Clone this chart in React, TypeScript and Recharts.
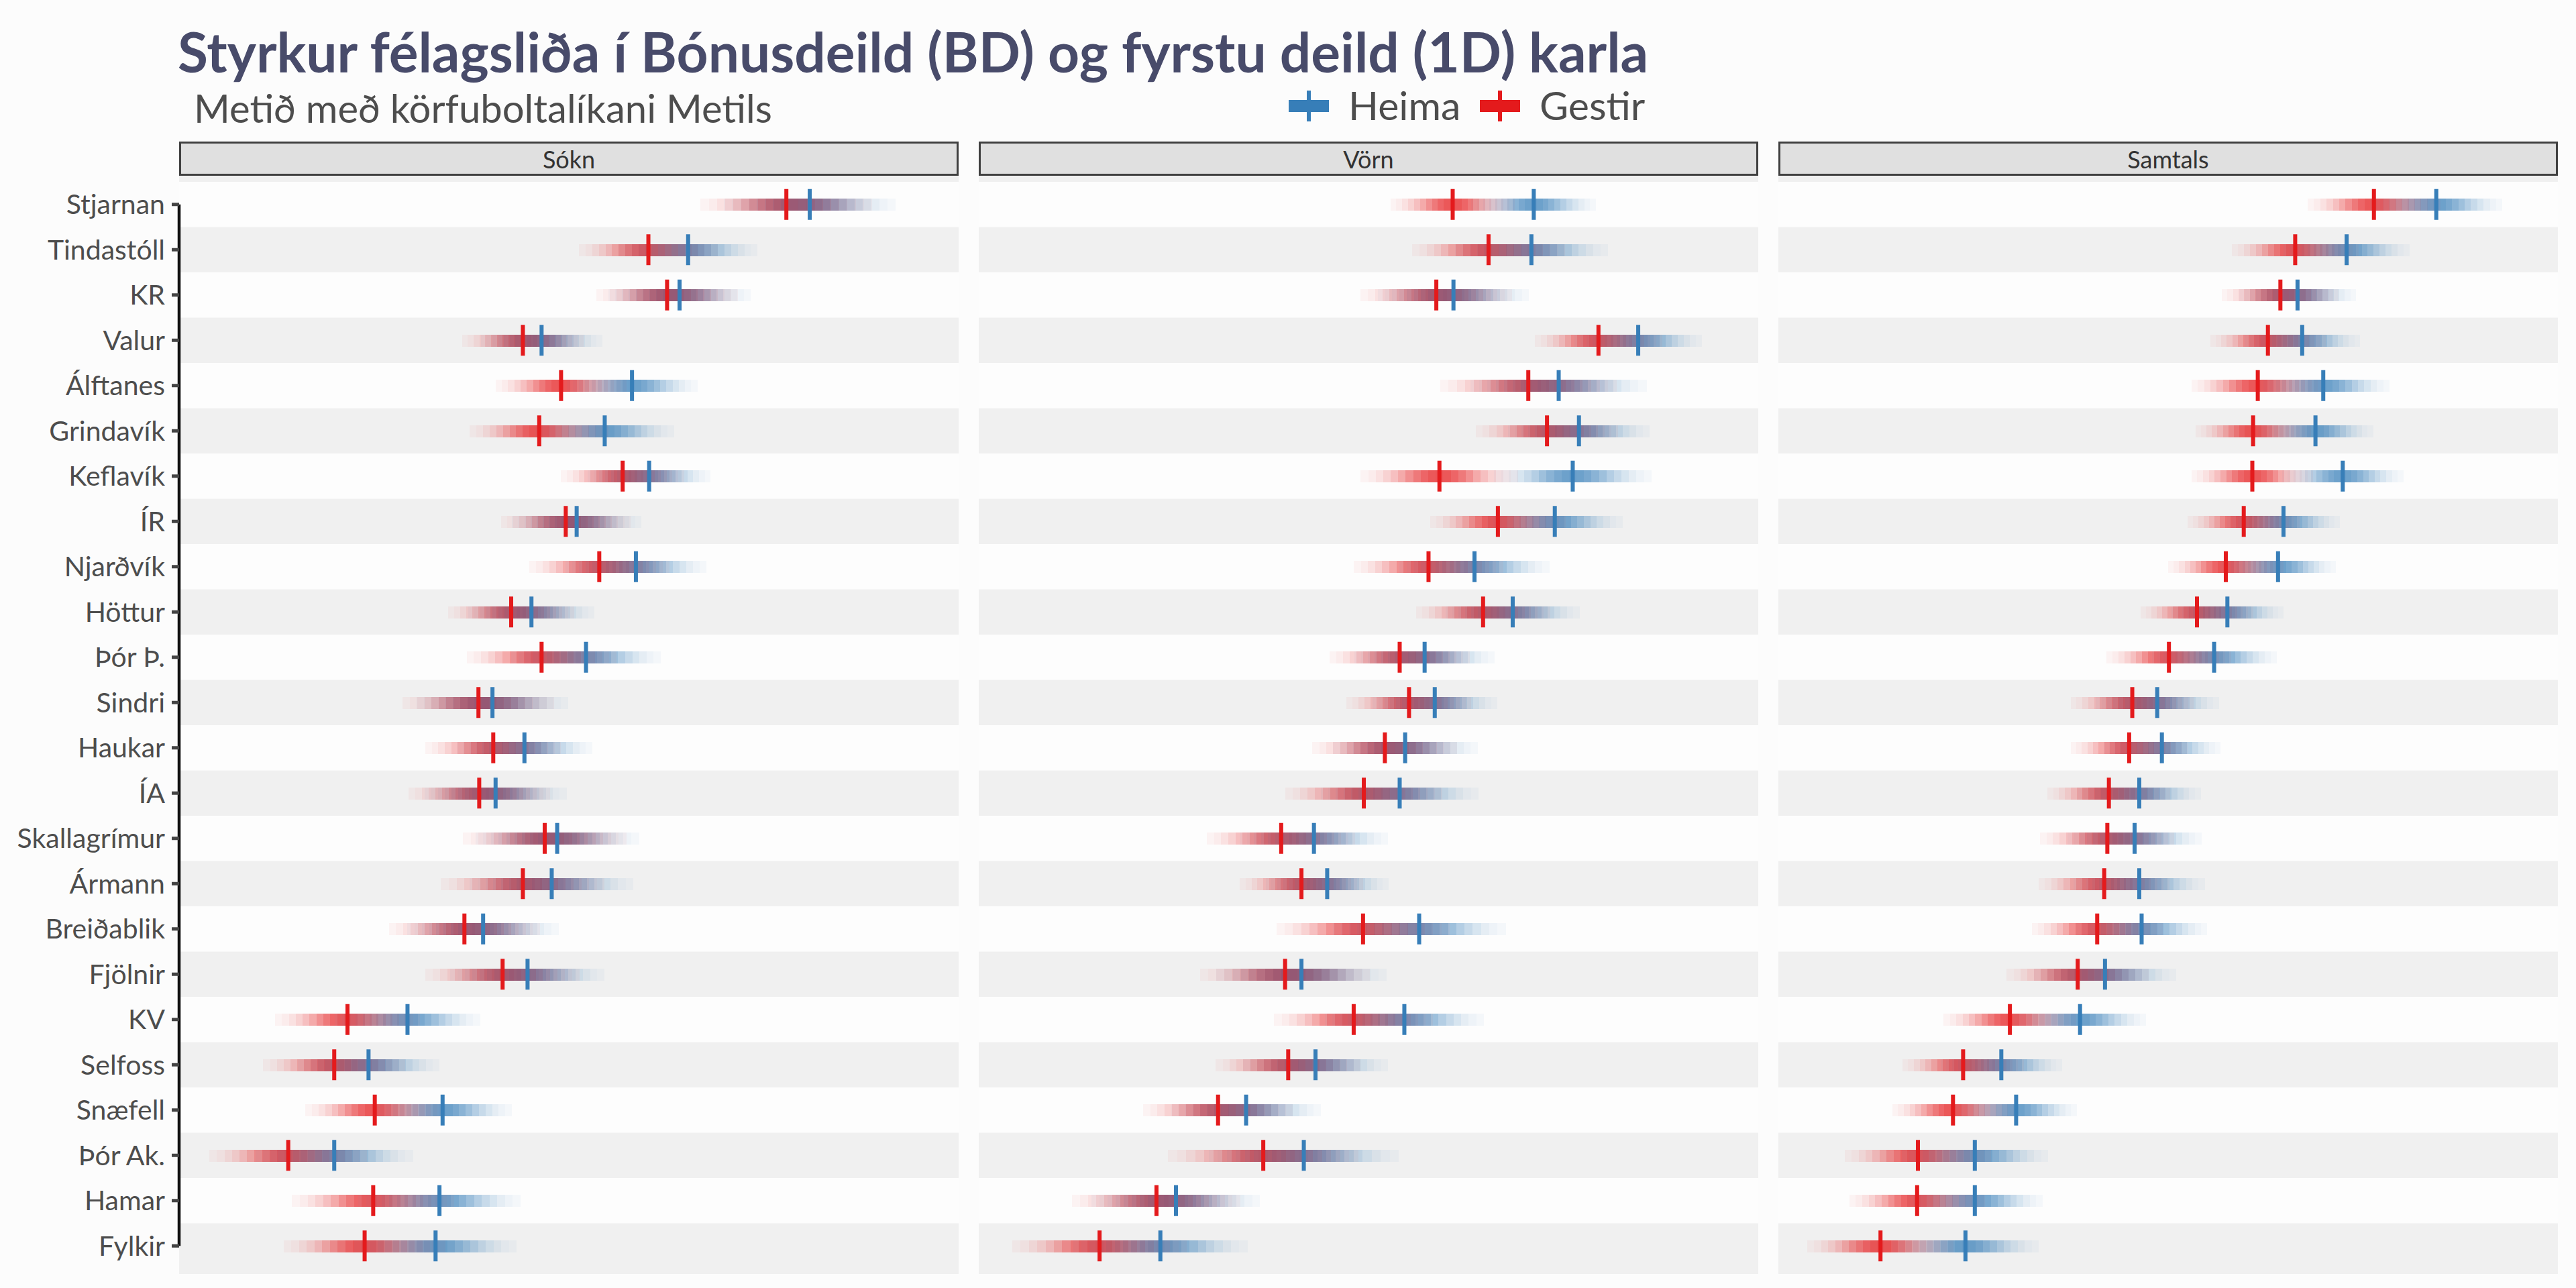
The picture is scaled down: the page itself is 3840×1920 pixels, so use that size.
import React from 'react';
import {
  ComposedChart,
  Bar,
  Scatter,
  XAxis,
  YAxis,
  ReferenceArea,
  ReferenceLine,
} from 'recharts';

// Lið, raðað eftir heildarstyrk
const teams = [
  'Stjarnan', 'Tindastóll', 'KR', 'Valur', 'Álftanes', 'Grindavík', 'Keflavík', 'ÍR',
  'Njarðvík', 'Höttur', 'Þór Þ.', 'Sindri', 'Haukar', 'ÍA', 'Skallagrímur', 'Ármann',
  'Breiðablik', 'Fjölnir', 'KV', 'Selfoss', 'Snæfell', 'Þór Ak.', 'Hamar', 'Fylkir',
];

// Mat á styrk (kvarði 0-100 innan hvers hluta)
const soknHeima = [80.9, 65.3, 64.2, 46.5, 58.1, 54.6, 60.3, 51.0, 58.6, 45.2, 52.2, 40.2, 44.3, 40.6, 48.5, 47.8, 39.0, 44.7, 29.3, 24.3, 33.8, 19.9, 33.4, 32.9];
const soknGestir = [77.9, 60.2, 62.6, 44.1, 49.0, 46.2, 56.9, 49.6, 53.9, 42.6, 46.5, 38.4, 40.3, 38.5, 46.9, 44.1, 36.6, 41.5, 21.6, 19.9, 25.1, 14.0, 24.9, 23.8];
const vornHeima = [71.2, 70.9, 60.9, 84.6, 74.4, 77.0, 76.2, 73.9, 63.6, 68.5, 57.2, 58.5, 54.7, 54.0, 43.0, 44.7, 56.5, 41.4, 54.6, 43.2, 34.3, 41.7, 25.3, 23.3];
const vornGestir = [60.8, 65.4, 58.7, 79.5, 70.5, 72.9, 59.1, 66.6, 57.7, 64.7, 54.0, 55.2, 52.1, 49.4, 38.8, 41.4, 49.3, 39.3, 48.1, 39.7, 30.7, 36.5, 22.8, 15.5];
const samtalsHeima = [84.4, 72.9, 66.6, 67.2, 69.9, 68.9, 72.4, 64.8, 64.1, 57.6, 55.9, 48.6, 49.2, 46.3, 45.7, 46.3, 46.6, 41.9, 38.7, 28.6, 30.5, 25.2, 25.2, 24.0];
const samtalsGestir = [76.4, 66.3, 64.4, 62.8, 61.5, 60.9, 60.8, 59.7, 57.4, 53.7, 50.1, 45.4, 45.0, 42.4, 42.2, 41.8, 40.9, 38.4, 29.7, 23.7, 22.4, 17.9, 17.8, 13.1];

// Óvissa (hálf breidd bilsins) fyrir hvert lið
const soknOvissa = [11.0, 8.9, 9.1, 7.8, 8.4, 8.9, 7.9, 8.3, 9.0, 8.1, 9.6, 9.7, 8.7, 9.1, 10.5, 10.5, 9.7, 9.9, 9.3, 9.1, 8.9, 10.1, 10.4, 10.4];
const vornOvissa = [8.0, 9.8, 9.7, 8.2, 11.3, 9.1, 10.1, 8.7, 9.6, 8.6, 9.0, 8.0, 9.3, 10.1, 9.5, 7.9, 11.1, 10.9, 10.2, 9.3, 9.6, 12.2, 10.8, 11.2];
const samtalsOvissa = [8.5, 8.1, 7.5, 7.4, 8.5, 7.4, 7.8, 7.2, 7.4, 7.2, 8.0, 7.9, 7.5, 7.9, 8.6, 8.4, 8.4, 9.1, 8.5, 7.8, 7.8, 9.4, 8.7, 9.4];

const panelNames = ['Sókn', 'Vörn', 'Samtals'];

const HEIMA = '#377eb8';
const GESTIR = '#e41a1c';
const HEIMA_RGB = [55, 126, 184];
const GESTIR_RGB = [228, 26, 28];
const FONT = 'Lato, "Open Sans", sans-serif';

const PANEL_W = 1162;
const PANEL_LEFTS = [267, 1459, 2651];
const AXIS_W = 267;
const ROW_H = 67.5;
const ROWS_TOP = 270.5;
const PANEL_TOP = 262;
const PANEL_BOTTOM = 1899;
const STRIP_TOP = 211;
const STEPS = 21;
const PEAK = 0.75;

// þéttleiki (ógegnsæi) í þrepi sem inniheldur v
function stepAlpha(v: number, m: number, s: number) {
  const w = (2 * s) / STEPS;
  const k = Math.floor((v - (m - s)) / w);
  if (k < 0 || k >= STEPS) return 0;
  const z = (m - s + (k + 0.5) * w - m) / (s / 2.5);
  return PEAK * Math.exp((-z * z) / 2);
}

function GradientBar(props: any) {
  const { x, y, width, height, payload } = props;
  if (!payload) return null;
  const [lo, hi] = payload.range;
  const toPx = (v: number) => x + ((v - lo) / (hi - lo)) * width;
  const { heima, gestir, spread: s } = payload;
  const edges: number[] = [];
  for (let k = 0; k <= STEPS; k++) {
    edges.push(heima - s + (2 * s * k) / STEPS, gestir - s + (2 * s * k) / STEPS);
  }
  edges.sort((a, b) => a - b);
  const cells: React.ReactNode[] = [];
  for (let i = 0; i < edges.length - 1; i++) {
    const a = edges[i];
    const b = edges[i + 1];
    if (b - a < 1e-6) continue;
    const mid = (a + b) / 2;
    const ab = stepAlpha(mid, heima, s);
    const ar = stepAlpha(mid, gestir, s);
    if (ab + ar <= 0) continue;
    const alpha = 1 - (1 - ab) * (1 - ar);
    const rgb = HEIMA_RGB.map((c, j) => Math.round((ab * c + ar * GESTIR_RGB[j]) / (ab + ar)));
    cells.push(
      <rect
        key={i}
        x={toPx(a)}
        y={y}
        width={toPx(b) - toPx(a)}
        height={height}
        fill={`rgb(${rgb.join(',')})`}
        fillOpacity={alpha}
        shapeRendering="crispEdges"
      />
    );
  }
  return <g>{cells}</g>;
}

const marker = (color: string) => (p: any) =>
  <rect x={p.cx - 3} y={p.cy - 23} width={6} height={46} fill={color} />;

function Panel({ idx, heima, gestir, ovissa }: { idx: number; heima: number[]; gestir: number[]; ovissa: number[] }) {
  const showAxis = idx === 0;
  const rows = teams.map((team, i) => ({
    team,
    heima: heima[i],
    gestir: gestir[i],
    spread: ovissa[i],
    range: [Math.min(heima[i], gestir[i]) - ovissa[i], Math.max(heima[i], gestir[i]) + ovissa[i]],
  }));
  const axisW = showAxis ? AXIS_W : 0;
  return (
    <div style={{ position: 'absolute', left: PANEL_LEFTS[idx] - axisW, top: ROWS_TOP }}>
      <ComposedChart
        layout="vertical"
        width={PANEL_W + axisW}
        height={ROW_H * teams.length}
        data={rows}
        margin={{ top: 0, right: 0, bottom: 0, left: 0 }}
      >
        <XAxis type="number" domain={[0, 100]} hide allowDataOverflow />
        <YAxis
          type="category"
          dataKey="team"
          width={axisW}
          hide={!showAxis}
          axisLine={false}
          tickSize={11}
          tickMargin={10}
          tickLine={{ stroke: '#444', strokeWidth: 5 }}
          tick={{ fontSize: 41, fill: '#4d4d4d', fontFamily: FONT }}
          interval={0}
        />
        {teams
          .filter((_, i) => i % 2 === 0)
          .map((t) => (
            <ReferenceArea key={t} y1={t} y2={t} fill="#fdfdfd" fillOpacity={1} stroke="none" ifOverflow="visible" />
          ))}
        <Bar dataKey="range" barSize={18} shape={GradientBar} isAnimationActive={false} />
        <Scatter dataKey="heima" shape={marker(HEIMA)} isAnimationActive={false} />
        <Scatter dataKey="gestir" shape={marker(GESTIR)} isAnimationActive={false} />
        {showAxis && (
          <ReferenceLine
            segment={[{ x: 0, y: teams[0] }, { x: 0, y: teams[teams.length - 1] }]}
            stroke="#111"
            strokeWidth={4.5}
            ifOverflow="visible"
          />
        )}
      </ComposedChart>
    </div>
  );
}

export default function App() {
  const series = [
    [soknHeima, soknGestir, soknOvissa],
    [vornHeima, vornGestir, vornOvissa],
    [samtalsHeima, samtalsGestir, samtalsOvissa],
  ];
  return (
    <div style={{ position: 'absolute', left: 0, top: 0, width: 3840, height: 1920, background: '#fcfcfc', fontFamily: FONT }}>
      <svg width={3840} height={1920} style={{ position: 'absolute', left: 0, top: 0 }}>
        <text x={265} y={108} fontSize={82} fontWeight={700} fill="#484b6a" fontFamily={FONT}>
          Styrkur félagsliða í Bónusdeild (BD) og fyrstu deild (1D) karla
        </text>
        <text x={289} y={183} fontSize={58} fill="#4d4d4d" fontFamily={FONT}>
          Metið með körfuboltalíkani Metils
        </text>
        {/* skýringar */}
        <rect x={1921} y={149} width={60} height={18} fill={HEIMA} />
        <rect x={1948} y={135} width={6} height={46} fill={HEIMA} />
        <text x={2010} y={179} fontSize={59} fill="#4d4d4d" fontFamily={FONT}>Heima</text>
        <rect x={2206} y={149} width={60} height={18} fill={GESTIR} />
        <rect x={2233} y={135} width={6} height={46} fill={GESTIR} />
        <text x={2295} y={179} fontSize={59} fill="#4d4d4d" fontFamily={FONT}>Gestir</text>
        {PANEL_LEFTS.map((l, i) => (
          <g key={panelNames[i]}>
            <rect x={l} y={PANEL_TOP} width={PANEL_W} height={PANEL_BOTTOM - PANEL_TOP} fill="#f0f0f0" />
            <rect x={l + 1.5} y={STRIP_TOP + 1.5} width={PANEL_W - 3} height={PANEL_TOP - STRIP_TOP - 3} fill="#e0e0e0" stroke="#404040" strokeWidth={3} />
            <text x={l + PANEL_W / 2} y={251} textAnchor="middle" fontSize={36} fill="#333" fontFamily={FONT}>
              {panelNames[i]}
            </text>
          </g>
        ))}
      </svg>
      {series.map(([h, g, o], i) => (
        <Panel key={panelNames[i]} idx={i} heima={h} gestir={g} ovissa={o} />
      ))}
    </div>
  );
}
